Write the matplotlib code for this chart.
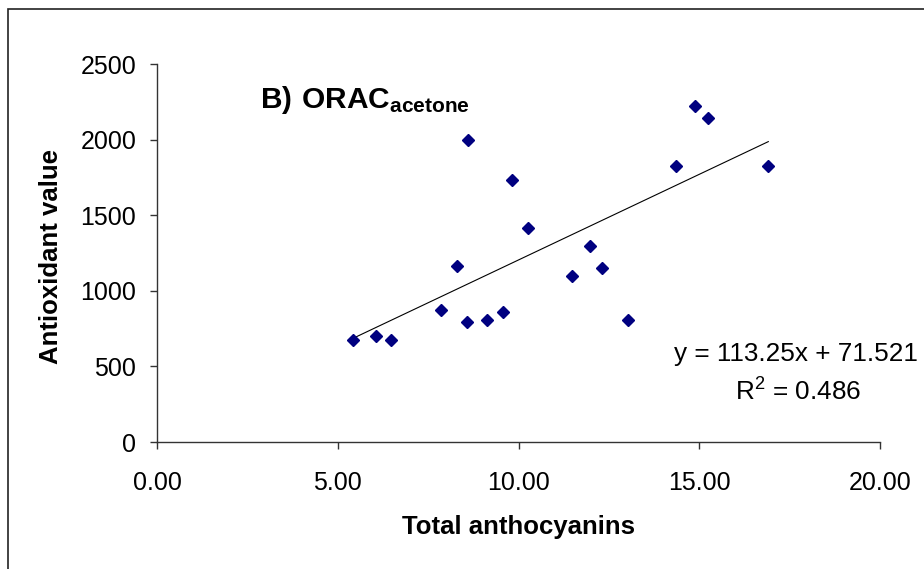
import matplotlib
matplotlib.use("Agg")

import numpy as np
import matplotlib.pyplot as plt
from matplotlib.patches import Rectangle

# data
anthocyanins = [5.41, 6.07, 6.48, 7.85, 8.29, 8.57, 8.61, 9.12, 9.57, 9.83, 10.27,
                11.49, 11.98, 12.31, 13.04, 14.37, 14.87, 15.24, 16.91]
antioxidant = [672, 703, 672, 870, 1164, 794, 1997, 804, 860, 1730, 1413,
               1098, 1298, 1151, 807, 1823, 2224, 2143, 1823]
slope = 113.25
intercept = 71.521
r_squared = 0.486
x_ticks = [0, 5, 10, 15, 20]
y_ticks = [0, 500, 1000, 1500, 2000, 2500]

plt.rcParams['font.family'] = ['Liberation Sans', 'DejaVu Sans']
plt.rcParams['mathtext.fontset'] = 'custom'
plt.rcParams['mathtext.rm'] = 'Liberation Sans'
plt.rcParams['mathtext.bf'] = 'Liberation Sans:bold'

fig = plt.figure(figsize=(9.24, 5.69), dpi=100)
ax = fig.add_axes([157 / 924, 1 - 442 / 569, (880 - 157) / 924, (442 - 64) / 569])

# outer frame (right/bottom edges fall outside the image)
fig.patches.append(Rectangle((8 / 924, -0.1), 1.2, 1 - 9 / 569 + 0.1,
                             transform=fig.transFigure, fill=False,
                             edgecolor='#222222', linewidth=1.2))

ax.plot(anthocyanins, antioxidant, linestyle='none', marker='D', markersize=6.5,
        color='#000080', clip_on=False, zorder=3)

xfit = np.array([min(anthocyanins), max(anthocyanins)])
ax.plot(xfit, slope * xfit + intercept, color='black', linewidth=0.8)

ax.set_xlim(0, 20)
ax.set_ylim(0, 2500)
ax.set_xticks(x_ticks)
ax.set_xticklabels([f"{v:.2f}" for v in x_ticks])
ax.set_yticks(y_ticks)
ax.set_yticklabels([str(v) for v in y_ticks])

for s in ['top', 'right']:
    ax.spines[s].set_visible(False)
for s in ['left', 'bottom']:
    ax.spines[s].set_color('#333333')
    ax.spines[s].set_linewidth(1.0)

ax.tick_params(axis='both', direction='out', length=5, width=1.0, color='#333333',
               labelsize=18)
ax.tick_params(axis='x', pad=16)
ax.tick_params(axis='y', pad=10)

ax.set_xlabel("Total anthocyanins", fontsize=18.5, fontweight='bold', labelpad=14)
ax.set_ylabel("Antioxidant value", fontsize=18.5, fontweight='bold')
ax.yaxis.set_label_coords(-0.130, 0.492)

ax.text(2.85, 2211, r"$\mathbf{B)\ ORAC_{acetone}}$", fontsize=21.5,
        ha='left', va='baseline')

ax.text(17.68, 533, f"y = {slope}x + {intercept}", fontsize=18.8,
        ha='center', va='baseline')
ax.text(17.73, 280, r"R$^2$ = " + f"{r_squared}", fontsize=18.8,
        ha='center', va='baseline')

plt.savefig("out.png", dpi=100)
plt.close()
